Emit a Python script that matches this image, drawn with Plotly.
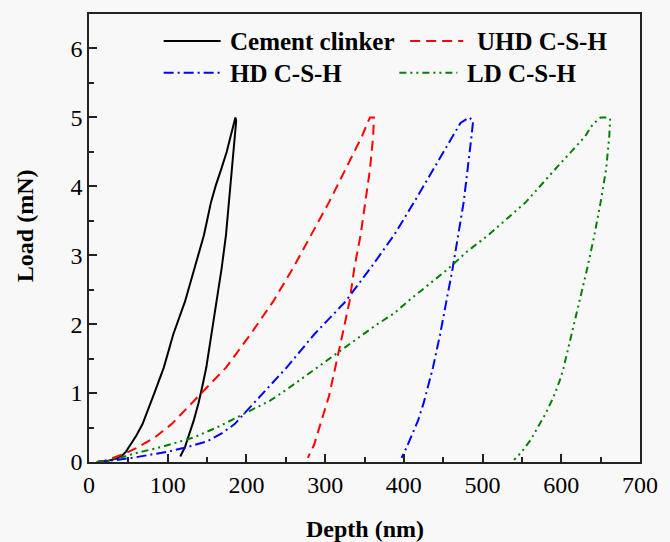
import plotly.graph_objects as go

# ---- data (depth in nm, load in mN) ----
clinker_depth = [10, 25, 35, 41, 47, 53, 60, 68, 75, 83, 95, 107, 122, 134, 146, 155, 161, 168, 175, 180, 184, 186,
                 187, 186, 182, 178, 174, 168.5, 162, 156, 149, 144, 139, 133, 128, 122, 116]
clinker_load = [0, 0.02, 0.05, 0.08, 0.15, 0.25, 0.38, 0.55, 0.75, 1.0, 1.37, 1.85, 2.33, 2.81, 3.29, 3.77, 4.01, 4.25, 4.5, 4.73, 4.92, 5.0,
                4.95, 4.83, 4.25, 3.77, 3.29, 2.81, 2.33, 1.85, 1.37, 1.1, 0.85, 0.6, 0.42, 0.22, 0.08]

uhd_depth = [10, 20, 30, 45, 60, 84, 105, 122, 143, 157, 174, 205, 226, 234, 259, 282, 305, 326, 347, 353, 357,
             362, 361, 357, 351, 345, 337, 331, 322, 313, 305, 298, 292, 286, 278]
uhd_load = [0, 0.02, 0.06, 0.12, 0.2, 0.36, 0.55, 0.75, 0.99, 1.16, 1.37, 1.85, 2.19, 2.33, 2.81, 3.29, 3.77, 4.25, 4.73, 4.9, 5.0,
            5.0, 4.73, 4.25, 3.77, 3.29, 2.81, 2.33, 1.85, 1.37, 0.96, 0.7, 0.46, 0.25, 0.06]

hd_depth = [10, 20, 35, 55, 76, 100, 126, 150, 168, 185, 197, 216, 235, 251, 286, 326, 360, 388, 413, 438, 463, 472, 483,
            488, 486, 481, 476, 469, 462, 454, 446, 437, 431, 425, 418, 410, 403, 397]
hd_load = [0, 0.01, 0.03, 0.06, 0.1, 0.15, 0.22, 0.3, 0.41, 0.55, 0.70, 0.94, 1.17, 1.37, 1.85, 2.33, 2.85, 3.3, 3.77, 4.25, 4.73, 4.92, 5.0,
           4.95, 4.73, 4.25, 3.77, 3.29, 2.81, 2.33, 1.85, 1.37, 1.1, 0.85, 0.6, 0.38, 0.2, 0.06]

ld_depth = [10, 25, 39, 60, 93, 134, 164, 197, 230, 251, 290, 320, 365, 388, 405, 457, 480, 507, 555, 590, 613, 630, 640, 650,
            660, 662, 661, 657, 650, 642, 633, 623, 613, 603, 598, 590, 580, 570, 561, 550, 540]
ld_load = [0, 0.02, 0.06, 0.13, 0.22, 0.36, 0.51, 0.70, 0.89, 1.05, 1.37, 1.61, 1.99, 2.16, 2.33, 2.81, 3.05, 3.29, 3.77, 4.22, 4.5, 4.72, 4.9, 5.0,
           5.0, 4.97, 4.73, 4.25, 3.77, 3.29, 2.81, 2.33, 1.85, 1.37, 1.18, 0.94, 0.7, 0.5, 0.32, 0.15, 0.03]

names = ["Cement clinker", "UHD C-S-H", "HD C-S-H", "LD C-S-H"]
colors = ["#000000", "#ff0000", "#0000ff", "#008000"]
dashes = ["solid", "10px,6px", "10px,4px,2px,4px", "7px,4px,2px,4px,2px,4px"]

series = [(clinker_depth, clinker_load), (uhd_depth, uhd_load), (hd_depth, hd_load), (ld_depth, ld_load)]

FONT = "Liberation Serif, Times New Roman, serif"

fig = go.Figure()
for (xs, ys), n, c, d in zip(series, names, colors, dashes):
    fig.add_trace(go.Scatter(x=xs, y=ys, mode="lines", name=n,
                             line=dict(color=c, width=2, dash=d), showlegend=False))

# manual legend (2 x 2 layout)
W, H = 670, 542
L, R, T, B = 89, 20, 12, 80
pw, ph = W - L - R, H - T - B
def px(xp): return (xp - L) / pw
def py(yp): return (H - B - yp) / ph

legend_items = [
    (165, 223, 231, 39),
    (416, 470, 482, 39),
    (165, 222, 231, 71),
    (405, 464, 472, 71),
]
for (x0, x1, xt, yy), n, c, d in zip(legend_items, names, colors, dashes):
    fig.add_shape(type="line", xref="paper", yref="paper", x0=px(x0), x1=px(x1), y0=py(yy), y1=py(yy),
                  line=dict(color=c, width=2, dash=d))
    fig.add_annotation(xref="paper", yref="paper", x=px(xt), y=py(yy + 1), text="<b>%s</b>" % n,
                       showarrow=False, xanchor="left", yanchor="middle",
                       font=dict(family=FONT, size=25, color="black"))

# axis titles
fig.add_annotation(xref="paper", yref="paper", x=px(24), y=py(225), text="<b>Load (mN)</b>", textangle=-90,
                   showarrow=False, xanchor="center", yanchor="middle", font=dict(family=FONT, size=24, color="black"))
fig.add_annotation(xref="paper", yref="paper", x=0.5, y=py(529), text="<b>Depth (nm)</b>",
                   showarrow=False, xanchor="center", yanchor="middle", font=dict(family=FONT, size=24, color="black"))

axis_common = dict(showline=True, linecolor="#222", linewidth=1.5, mirror=True, showgrid=False, zeroline=False,
                   ticks="inside", ticklen=8, tickwidth=1.5, tickcolor="#222",
                   tickfont=dict(family=FONT, size=24, color="black"))
fig.update_xaxes(range=[0, 700], tickmode="linear", tick0=0, dtick=100,
                 minor=dict(ticks="inside", ticklen=5, tickwidth=1.5, tickcolor="#222", dtick=50, showgrid=False),
                 **axis_common)
fig.update_yaxes(range=[0, 6.5], tickmode="linear", tick0=0, dtick=1,
                 minor=dict(ticks="inside", ticklen=5, tickwidth=1.5, tickcolor="#222", dtick=0.5, showgrid=False),
                 **axis_common)

fig.update_layout(width=W, height=H, margin=dict(l=L, r=R, t=T, b=B),
                  paper_bgcolor="#f8f8f8", plot_bgcolor="#f8f8f8", showlegend=False)

fig.write_html("out.html")
